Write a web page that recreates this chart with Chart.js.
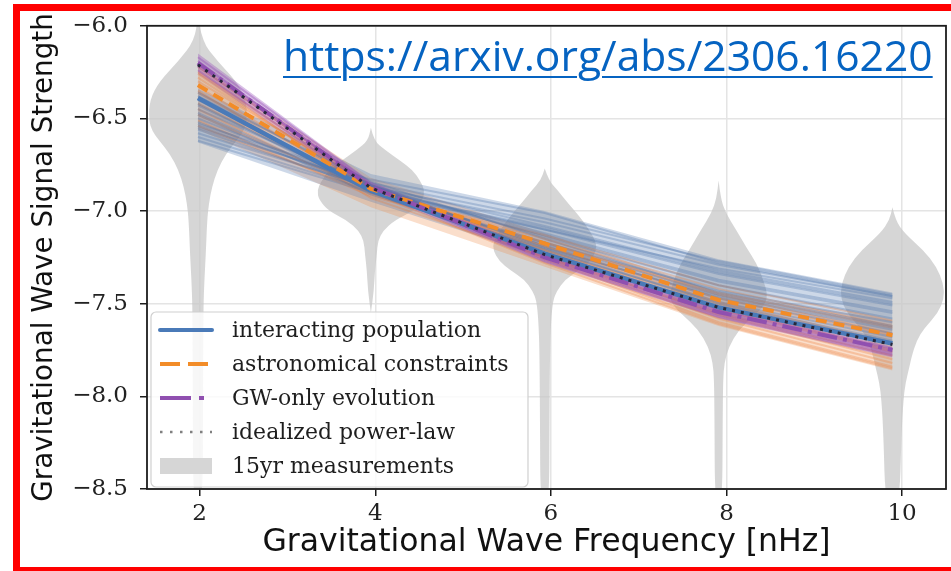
<!DOCTYPE html>
<html>
<head>
<meta charset="utf-8">
<script src="https://cdn.jsdelivr.net/npm/chart.js@4.4.0/dist/chart.umd.min.js"></script>
<style>
  html, body { margin: 0; padding: 0; background: #fff; }
  #wrap { position: relative; width: 951px; height: 571px; overflow: hidden; background: #fff; }
  #chartBox { position: absolute; left: 0; top: 0; width: 951px; height: 571px; }
  #frame { position: absolute; left: 13px; top: 4px; width: 938px; height: 567px; box-sizing: border-box;
           border-left: 7px solid #ff0000; border-top: 7px solid #ff0000; border-bottom: 4px solid #ff0000;
           pointer-events: none; }
  #link { position: absolute; left: 283px; top: 33px; font-family: "Open Sans", sans-serif; font-size: 42.6px;
          line-height: 1; color: #0563c1; text-decoration: underline; text-decoration-thickness: 2px;
          text-underline-offset: 5px; white-space: nowrap; }
</style>
</head>
<body>
<div id="wrap">
  <div id="chartBox"><canvas id="chart"></canvas></div>
  <div id="link">https://arxiv.org/abs/2306.16220</div>
  <div id="frame"></div>
</div>
<script>
// Frequency bins (nHz) of the 15-year data set
const freqs = [1.98, 3.95, 5.93, 7.91, 9.89];
const xTicks = [2, 4, 6, 8, 10];
const yTicks = [-8.5, -8.0, -7.5, -7.0, -6.5, -6.0];

// Median spectra of each model
const interacting  = [-6.39, -6.89, -7.23, -7.52, -7.715];
const astronomical = [-6.32, -6.88, -7.175, -7.48, -7.67];
const gwOnly       = [-6.20, -6.87, -7.25, -7.545, -7.75];
const powerLaw     = [-6.21, -6.875, -7.235, -7.52, -7.72];

// Spread of the posterior draws (upper / lower edge of each band)
const interactingTop    = [-6.34, -6.80, -7.00, -7.26, -7.44];
const interactingBottom = [-6.63, -6.95, -7.25, -7.53, -7.72];
const astronomicalTop    = [-6.21, -6.82, -7.12, -7.44, -7.59];
const astronomicalBottom = [-6.56, -6.98, -7.30, -7.62, -7.86];
const gwOnlyTop    = [-6.15, -6.84, -7.22, -7.52, -7.73];
const gwOnlyBottom = [-6.26, -6.90, -7.28, -7.58, -7.79];

// Individual posterior draws
const interactingDraws = [
  [-6.36, -6.86, -7.20, -7.50, -7.70],
  [-6.40, -6.87, -7.19, -7.47, -7.66],
  [-6.43, -6.88, -7.18, -7.45, -7.63],
  [-6.45, -6.86, -7.14, -7.40, -7.58],
  [-6.47, -6.89, -7.17, -7.43, -7.60],
  [-6.50, -6.87, -7.12, -7.37, -7.54],
  [-6.52, -6.88, -7.13, -7.38, -7.55],
  [-6.54, -6.86, -7.08, -7.32, -7.49],
  [-6.56, -6.88, -7.10, -7.34, -7.51],
  [-6.58, -6.87, -7.06, -7.29, -7.46],
  [-6.60, -6.89, -7.09, -7.33, -7.50],
  [-6.62, -6.90, -7.10, -7.31, -7.47],
  [-6.42, -6.90, -7.21, -7.49, -7.68],
  [-6.48, -6.91, -7.20, -7.46, -7.64],
  [-6.38, -6.84, -7.15, -7.44, -7.62],
  [-6.55, -6.85, -7.04, -7.27, -7.45],
  [-6.53, -6.83, -7.01, -7.28, -7.46]
];
const astronomicalDraws = [
  [-6.22, -6.86, -7.26, -7.60, -7.84],
  [-6.25, -6.87, -7.25, -7.58, -7.82],
  [-6.28, -6.88, -7.24, -7.56, -7.80],
  [-6.30, -6.86, -7.21, -7.52, -7.75],
  [-6.33, -6.89, -7.22, -7.53, -7.76],
  [-6.36, -6.87, -7.19, -7.49, -7.71],
  [-6.39, -6.90, -7.21, -7.50, -7.72],
  [-6.42, -6.88, -7.17, -7.45, -7.66],
  [-6.45, -6.91, -7.19, -7.47, -7.67],
  [-6.48, -6.89, -7.15, -7.42, -7.62],
  [-6.51, -6.92, -7.17, -7.44, -7.63],
  [-6.54, -6.90, -7.13, -7.40, -7.59],
  [-6.26, -6.90, -7.28, -7.61, -7.85],
  [-6.35, -6.93, -7.25, -7.55, -7.78]
];
const gwOnlyDraws = [
  [-6.17, -6.85, -7.24, -7.54, -7.75],
  [-6.19, -6.87, -7.26, -7.56, -7.77],
  [-6.22, -6.86, -7.25, -7.55, -7.76],
  [-6.24, -6.88, -7.27, -7.57, -7.78],
  [-6.20, -6.86, -7.23, -7.53, -7.74]
];

// 15yr measurement densities: levels (log10) and half-widths (nHz) of each violin
const violinLevels = [
  [-5.95, -6.08, -6.19, -6.30, -6.40, -6.51, -6.57, -6.62, -6.69, -6.78, -6.87, -6.96, -7.05, -7.23, -7.41, -7.55, -8.02, -8.60],
  [-6.55, -6.62, -6.67, -6.73, -6.78, -6.835, -6.89, -6.94, -7.00, -7.05, -7.105, -7.16, -7.23, -7.32, -7.43, -7.55],
  [-6.77, -6.835, -6.89, -6.96, -7.03, -7.105, -7.16, -7.21, -7.27, -7.32, -7.37, -7.43, -7.48, -7.59, -7.75, -8.13, -8.60],
  [-6.835, -6.93, -7.01, -7.105, -7.20, -7.28, -7.37, -7.455, -7.51, -7.56, -7.64, -7.735, -7.82, -7.91, -8.09, -8.60],
  [-6.98, -7.05, -7.12, -7.21, -7.30, -7.39, -7.47, -7.55, -7.63, -7.70, -7.79, -7.84, -7.93, -8.02, -8.20, -8.60]
];
const violinHalfWidths = [
  [0, 0.04, 0.22, 0.44, 0.55, 0.56, 0.52, 0.44, 0.32, 0.22, 0.16, 0.125, 0.105, 0.09, 0.07, 0.062, 0.058, 0.055],
  [0, 0.034, 0.16, 0.34, 0.48, 0.56, 0.615, 0.59, 0.48, 0.27, 0.14, 0.08, 0.068, 0.046, 0.034, 0],
  [0, 0.046, 0.15, 0.27, 0.40, 0.51, 0.58, 0.59, 0.52, 0.39, 0.23, 0.14, 0.095, 0.072, 0.06, 0.054, 0.05],
  [0, 0.023, 0.08, 0.205, 0.32, 0.43, 0.51, 0.56, 0.52, 0.41, 0.23, 0.114, 0.065, 0.052, 0.047, 0.042],
  [0, 0.034, 0.137, 0.353, 0.50, 0.58, 0.59, 0.52, 0.365, 0.274, 0.217, 0.194, 0.148, 0.125, 0.103, 0.08]
];

const legendLabels = ['interacting population', 'astronomical constraints', 'GW-only evolution',
                      'idealized power-law', '15yr measurements'];

const COLORS = {
  blue: '#4a7ab8', orange: '#f28c28', purple: '#9050b0', dots: '#26283a',
  blueDraw: 'rgba(74,112,170,0.30)', orangeDraw: 'rgba(236,124,52,0.30)', purpleDraw: 'rgba(150,78,182,0.40)',
  blueBand: 'rgba(90,125,178,0.30)', orangeBand: 'rgba(238,135,70,0.28)', purpleBand: 'rgba(150,78,182,0.35)',
  violin: 'rgba(198,198,198,0.72)'
};

const pts = ys => freqs.map((f, i) => ({ x: f, y: ys[i] }));

const datasets = [];
// filled spread of each model: upper edge fills down to the following dataset
const band = (top, bottom, color, order) => {
  datasets.push({ data: pts(top), borderWidth: 0, borderColor: 'rgba(0,0,0,0)', backgroundColor: color, fill: '+1', order });
  datasets.push({ data: pts(bottom), borderWidth: 0, borderColor: 'rgba(0,0,0,0)', fill: false, order });
};
band(astronomicalTop, astronomicalBottom, COLORS.orangeBand, 40);
band(interactingTop, interactingBottom, COLORS.blueBand, 38);
band(gwOnlyTop, gwOnlyBottom, COLORS.purpleBand, 36);
astronomicalDraws.forEach(d => datasets.push({ data: pts(d), borderColor: COLORS.orangeDraw, borderWidth: 2, order: 30 }));
gwOnlyDraws.forEach(d => datasets.push({ data: pts(d), borderColor: COLORS.purpleDraw, borderWidth: 2, order: 25 }));
interactingDraws.forEach(d => datasets.push({ data: pts(d), borderColor: COLORS.blueDraw, borderWidth: 2, order: 20 }));
datasets.push({ label: legendLabels[0], data: pts(interacting), borderColor: COLORS.blue, borderWidth: 4.5, order: 3 });
datasets.push({ label: legendLabels[1], data: pts(astronomical), borderColor: COLORS.orange, borderWidth: 4, borderDash: [11, 7], order: 2 });
datasets.push({ label: legendLabels[2], data: pts(gwOnly), borderColor: COLORS.purple, borderWidth: 4, borderDash: [20, 6, 4, 6], order: 1 });
datasets.push({ label: legendLabels[3], data: pts(powerLaw), borderColor: COLORS.dots, borderWidth: 3, borderDash: [3, 6], order: 0 });

function smoothPath(ctx, p) {
  ctx.beginPath();
  ctx.moveTo(p[0][0], p[0][1]);
  for (let i = 1; i < p.length - 1; i++) {
    const mx = (p[i][0] + p[i + 1][0]) / 2, my = (p[i][1] + p[i + 1][1]) / 2;
    ctx.quadraticCurveTo(p[i][0], p[i][1], mx, my);
  }
  ctx.lineTo(p[p.length - 1][0], p[p.length - 1][1]);
  ctx.closePath();
}

// Violins of the measured spectrum, drawn under the model curves
const violinPlugin = {
  id: 'violins',
  beforeDatasetsDraw(chart) {
    const { ctx, chartArea: a, scales: { x, y } } = chart;
    ctx.save();
    ctx.beginPath();
    ctx.rect(a.left, a.top, a.right - a.left, a.bottom - a.top);
    ctx.clip();
    ctx.fillStyle = COLORS.violin;
    freqs.forEach((c, k) => {
      const lv = violinLevels[k], hw = violinHalfWidths[k];
      const right = lv.map((v, i) => [x.getPixelForValue(c + hw[i]), y.getPixelForValue(v)]);
      const left = lv.map((v, i) => [x.getPixelForValue(c - hw[i]), y.getPixelForValue(v)]).reverse();
      smoothPath(ctx, right.concat(left));
      ctx.fill();
    });
    ctx.restore();
  }
};

// Box around the plotting area and the legend panel
const framePlugin = {
  id: 'frameAndLegend',
  afterDatasetsDraw(chart) {
    const { ctx, chartArea: a } = chart;
    ctx.save();
    ctx.strokeStyle = '#1c1c1c';
    ctx.lineWidth = 1.8;
    ctx.strokeRect(a.left, a.top, a.right - a.left, a.bottom - a.top);

    const bx = a.left + 4, by = a.bottom - 177, bw = 377, bh = 175;
    ctx.beginPath();
    ctx.roundRect(bx, by, bw, bh, 5);
    ctx.fillStyle = 'rgba(255,255,255,0.8)';
    ctx.fill();
    ctx.strokeStyle = '#d0d0d0';
    ctx.lineWidth = 1.2;
    ctx.stroke();

    const sx0 = bx + 9, sx1 = bx + 61, tx = bx + 81;
    const rowY = i => by + 18 + i * 34;
    const sample = (i, color, width, dash) => {
      ctx.beginPath();
      ctx.setLineDash(dash);
      ctx.strokeStyle = color;
      ctx.lineWidth = width;
      ctx.moveTo(sx0, rowY(i));
      ctx.lineTo(sx1, rowY(i));
      ctx.stroke();
    };
    ctx.lineCap = 'round';
    sample(0, COLORS.blue, 4, []);
    ctx.lineCap = 'butt';
    sample(1, COLORS.orange, 4, [20, 8]);
    sample(2, COLORS.purple, 4, [31, 8, 5, 8]);
    sample(3, '#808080', 2.5, [2.5, 7.5]);
    ctx.setLineDash([]);
    ctx.fillStyle = '#d6d6d6';
    ctx.fillRect(sx0, rowY(4) - 8, sx1 - sx0, 16);

    ctx.fillStyle = '#1e1e1e';
    ctx.font = '22px "DejaVu Serif"';
    ctx.textBaseline = 'middle';
    ctx.textAlign = 'left';
    legendLabels.forEach((t, i) => ctx.fillText(t, tx, rowY(i) + 1));
    ctx.restore();
  }
};

const fmt = v => (v < 0 ? '\u2212' : '') + Math.abs(v).toFixed(1);

new Chart(document.getElementById('chart'), {
  type: 'line',
  data: { datasets },
  plugins: [violinPlugin, framePlugin],
  options: {
    responsive: true,
    maintainAspectRatio: false,
    animation: false,
    devicePixelRatio: 1,
    layout: { padding: { left: 0, right: 5, top: 25, bottom: 0 } },
    elements: { point: { radius: 0 }, line: { tension: 0, borderCapStyle: 'butt' } },
    plugins: { legend: { display: false }, tooltip: { enabled: false } },
    scales: {
      x: {
        type: 'linear', min: 1.4, max: 10.5,
        afterFit: s => { s.height = 82; },
        afterBuildTicks: s => { s.ticks = xTicks.map(v => ({ value: v })); },
        grid: { color: '#e4e4e4', lineWidth: 1.5, tickColor: '#1c1c1c', tickLength: 7, tickWidth: 1.5 },
        border: { display: false },
        ticks: { color: '#222', font: { family: 'DejaVu Serif', size: 23 }, padding: 4, maxRotation: 0,
                 callback: v => String(v) },
        title: { display: true, text: 'Gravitational Wave Frequency [nHz]', color: '#111',
                 font: { family: 'DejaVu Sans', size: 31.5 }, padding: { top: 0, bottom: 9 } }
      },
      y: {
        type: 'linear', min: -8.5, max: -6.0,
        afterFit: s => { s.width = 147; },
        afterBuildTicks: s => { s.ticks = yTicks.map(v => ({ value: v })); },
        grid: { color: '#e4e4e4', lineWidth: 1.5, tickColor: '#1c1c1c', tickLength: 7, tickWidth: 1.5 },
        border: { display: false },
        ticks: { color: '#222', font: { family: 'DejaVu Serif', size: 23 }, padding: 12, callback: v => fmt(v) },
        title: { display: true, text: 'Gravitational Wave Signal Strength', color: '#111',
                 font: { family: 'DejaVu Sans', size: 27.8 }, padding: { top: 28, bottom: 0 } }
      }
    }
  }
});
</script>
</body>
</html>
